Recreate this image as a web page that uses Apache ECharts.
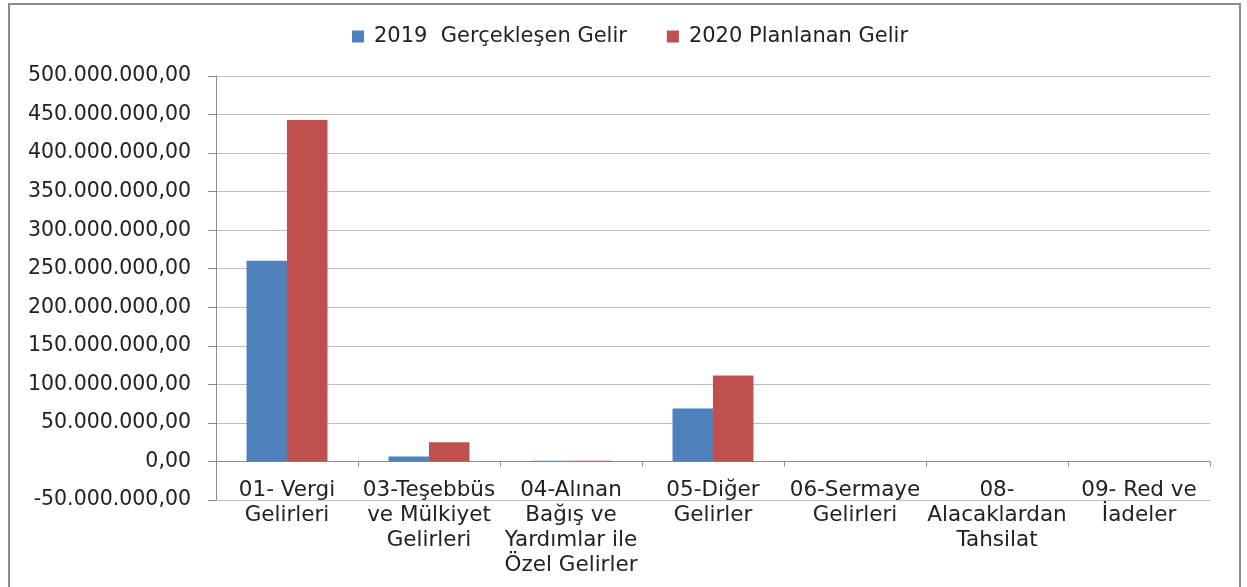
<!DOCTYPE html>
<html>
<head>
<meta charset="utf-8">
<script src="https://cdn.jsdelivr.net/npm/echarts@6/dist/echarts.min.js"></script>
<style>
html, body { margin: 0; padding: 0; background: #fff; }
#chart { width: 1247px; height: 587px; }
</style>
</head>
<body>
<div id="chart"></div>
<script>
// kategoriler ve seriler
var categories = [
    "01- Vergi\nGelirleri",
    "03-Teşebbüs\nve Mülkiyet\nGelirleri",
    "04-Alınan\nBağış ve\nYardımlar ile\nÖzel Gelirler",
    "05-Diğer\nGelirler",
    "06-Sermaye\nGelirleri",
    "08-\nAlacaklardan\nTahsilat",
    "09- Red ve\nİadeler"
];
var seriesNames = ["2019  Gerçekleşen Gelir", "2020 Planlanan Gelir"];
var gelir2019 = [260500000, 6500000, 1000000, 68800000, 0, 0, 0];
var gelir2020 = [443000000, 24800000, 1000000, 111500000, 0, 0, 0];
var yMin = -50000000;
var yMax = 500000000;
var yStep = 50000000;

var font = "'DejaVu Sans', sans-serif";

function trFormat(v) {
    var neg = v < 0;
    var s = Math.abs(Math.round(v)).toString();
    s = s.replace(/\B(?=(\d{3})+(?!\d))/g, ".");
    return (neg ? "-" : "") + s + ",00";
}

var chart = echarts.init(document.getElementById("chart"));
chart.setOption({
    animation: false,
    textStyle: { fontFamily: font },
    graphic: [{
        type: "rect",
        shape: { x: 9, y: 4, width: 1231, height: 600 },
        style: { fill: "none", stroke: "#8c8c8c", lineWidth: 2 },
        silent: true
    }],
    legend: {
        top: 21,
        left: 347,
        icon: "rect",
        itemWidth: 12,
        itemHeight: 12,
        itemGap: 40,
        textStyle: { fontSize: 21, color: "#222", fontFamily: font, padding: [0, 0, 0, 5] },
        data: seriesNames
    },
    grid: {
        left: 216,
        right: 37,
        top: 76,
        bottom: 87,
        containLabel: false,
        outerBoundsMode: "none"
    },
    xAxis: {
        type: "category",
        data: categories,
        axisLine: { onZero: true, lineStyle: { color: "#8c8c8c", width: 1 } },
        axisTick: { show: true, length: 5, lineStyle: { color: "#8c8c8c" } },
        axisLabel: {
            interval: 0,
            margin: -22,
            fontSize: 21.5,
            lineHeight: 25,
            color: "#222",
            fontFamily: font
        }
    },
    yAxis: {
        type: "value",
        min: yMin,
        max: yMax,
        interval: yStep,
        axisLine: { show: true, lineStyle: { color: "#8c8c8c" } },
        axisTick: { show: true, length: 8, lineStyle: { color: "#8c8c8c" } },
        splitLine: { lineStyle: { color: "#bdbdbd", width: 1 } },
        axisLabel: {
            margin: 25,
            fontSize: 20.5,
            color: "#222",
            fontFamily: font,
            formatter: trFormat
        }
    },
    series: [
        {
            name: seriesNames[0],
            type: "bar",
            data: gelir2019,
            barGap: "0%",
            barCategoryGap: "43%",
            itemStyle: { color: "#4f81bd" }
        },
        {
            name: seriesNames[1],
            type: "bar",
            data: gelir2020,
            barGap: "0%",
            barCategoryGap: "43%",
            itemStyle: { color: "#c0504d" }
        }
    ]
});
</script>
</body>
</html>
